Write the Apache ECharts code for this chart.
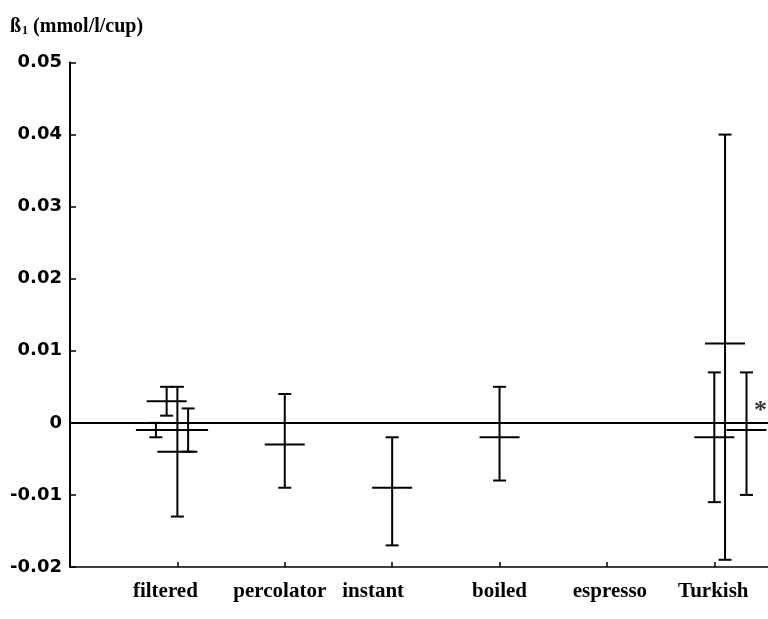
<!DOCTYPE html>
<html>
<head>
<meta charset="utf-8">
<script src="https://cdn.jsdelivr.net/npm/echarts@6/dist/echarts.min.js"></script>
<style>
  html, body { margin: 0; padding: 0; background: #fff; }
  #chart { width: 768px; height: 619px; }
</style>
</head>
<body>
<div id="chart"></div>
<script>
// brewing methods along the x axis (ticks at 1..6)
var methods = ['filtered', 'percolator', 'instant', 'boiled', 'espresso', 'Turkish'];
var methodX = [1, 2, 3, 4, 5, 6];

// one entry per study: x position, beta1 estimate, lower and upper limits
var barX   = [0.8, 0.9, 1.0, 1.1, 2, 3, 4, 6.0, 6.1, 6.3];
var beta   = [-0.001, 0.003, -0.004, -0.001, -0.003, -0.009, -0.002, -0.002, 0.011, -0.001];
var lower  = [-0.002, 0.001, -0.013, -0.004, -0.009, -0.017, -0.008, -0.011, -0.019, -0.010];
var upper  = [0, 0.005, 0.005, 0.002, 0.004, -0.002, 0.005, 0.007, 0.04, 0.007];

// significance marker
var starX = [6.43];
var starY = [0.0025];

// y ticks
var yMin = -0.02, yMax = 0.05, yStep = 0.01;

// small horizontal nudges (px) of the category labels, as printed
var labelShift = [-12, -5, -19, 0, 3, -1];

var bars = barX.map(function (x, i) {
    return [x, beta[i], lower[i], upper[i]];
});

var rich = {};
methods.forEach(function (m, i) {
    var s = labelShift[i];
    rich['m' + i] = {
        fontFamily: 'Liberation Serif',
        fontWeight: 'bold',
        fontSize: 21,
        color: '#000',
        padding: s < 0 ? [0, -2 * s, 0, 0] : [0, 0, 0, 2 * s]
    };
});

var chart = echarts.init(document.getElementById('chart'));

chart.setOption({
    animation: false,
    backgroundColor: '#fff',
    title: {
        text: 'ß{sub|1} (mmol/l/cup)',
        left: 10,
        top: 17,
        padding: 0,
        textStyle: {
            fontFamily: 'Liberation Serif',
            fontWeight: 'bold',
            fontSize: 20,
            color: '#000',
            rich: {
                sub: {
                    fontFamily: 'Liberation Serif',
                    fontWeight: 'bold',
                    fontSize: 12,
                    color: '#000',
                    verticalAlign: 'bottom',
                    padding: [8, 0, 0, 1]
                }
            }
        }
    },
    grid: { left: 70, right: 0, top: 62.5, bottom: 52, containLabel: false },
    xAxis: {
        type: 'value',
        min: 0,
        max: 6.5,
        interval: 1,
        splitLine: { show: false },
        axisLine: { onZero: false, lineStyle: { color: '#000', width: 1.5 } },
        axisTick: {
            inside: true, length: 5,
            customValues: methodX,
            lineStyle: { color: '#000', width: 1.5 }
        },
        axisLabel: {
            margin: 14,
            rich: rich,
            customValues: methodX,
            formatter: function (v) {
                var i = methodX.indexOf(Math.round(v));
                if (i < 0) return '';
                return '{m' + i + '|' + methods[i] + '}';
            }
        }
    },
    yAxis: {
        type: 'value',
        min: yMin,
        max: yMax,
        interval: yStep,
        splitLine: { show: false },
        axisLine: { lineStyle: { color: '#000', width: 2 } },
        axisTick: { inside: true, length: 6, lineStyle: { color: '#000', width: 1.5 } },
        axisLabel: {
            margin: 8,
            color: '#000',
            fontFamily: 'DejaVu Sans',
            fontWeight: 'bold',
            fontSize: 18,
            formatter: function (v) {
                return Math.abs(v) < 1e-9 ? '0' : v.toFixed(2);
            }
        }
    },
    series: [
        {
            type: 'custom',
            data: bars,
            renderItem: function (params, api) {
                var x = api.value(0);
                var pm = api.coord([x, api.value(1)]);
                var pl = api.coord([x, api.value(2)]);
                var ph = api.coord([x, api.value(3)]);
                var cap = 6.5, half = 20;
                var st = { stroke: '#000', lineWidth: 2 };
                return {
                    type: 'group',
                    children: [
                        { type: 'line', shape: { x1: pm[0], y1: ph[1], x2: pm[0], y2: pl[1] }, style: st },
                        { type: 'line', shape: { x1: pm[0] - cap, y1: ph[1], x2: pm[0] + cap, y2: ph[1] }, style: st },
                        { type: 'line', shape: { x1: pm[0] - cap, y1: pl[1], x2: pm[0] + cap, y2: pl[1] }, style: st },
                        { type: 'line', shape: { x1: pm[0] - half, y1: pm[1], x2: pm[0] + half, y2: pm[1] }, style: st }
                    ]
                };
            },
            markLine: {
                silent: true,
                symbol: 'none',
                label: { show: false },
                lineStyle: { color: '#000', width: 2, type: 'solid' },
                data: [{ yAxis: 0 }]
            }
        },
        {
            type: 'scatter',
            symbolSize: 0,
            data: starX.map(function (x, i) { return [x, starY[i]]; }),
            label: {
                show: true,
                position: 'inside',
                formatter: '*',
                offset: [0, 6],
                color: '#000',
                fontFamily: 'Liberation Serif',
                fontWeight: 'bold',
                fontSize: 26
            }
        }
    ]
});
</script>
</body>
</html>
